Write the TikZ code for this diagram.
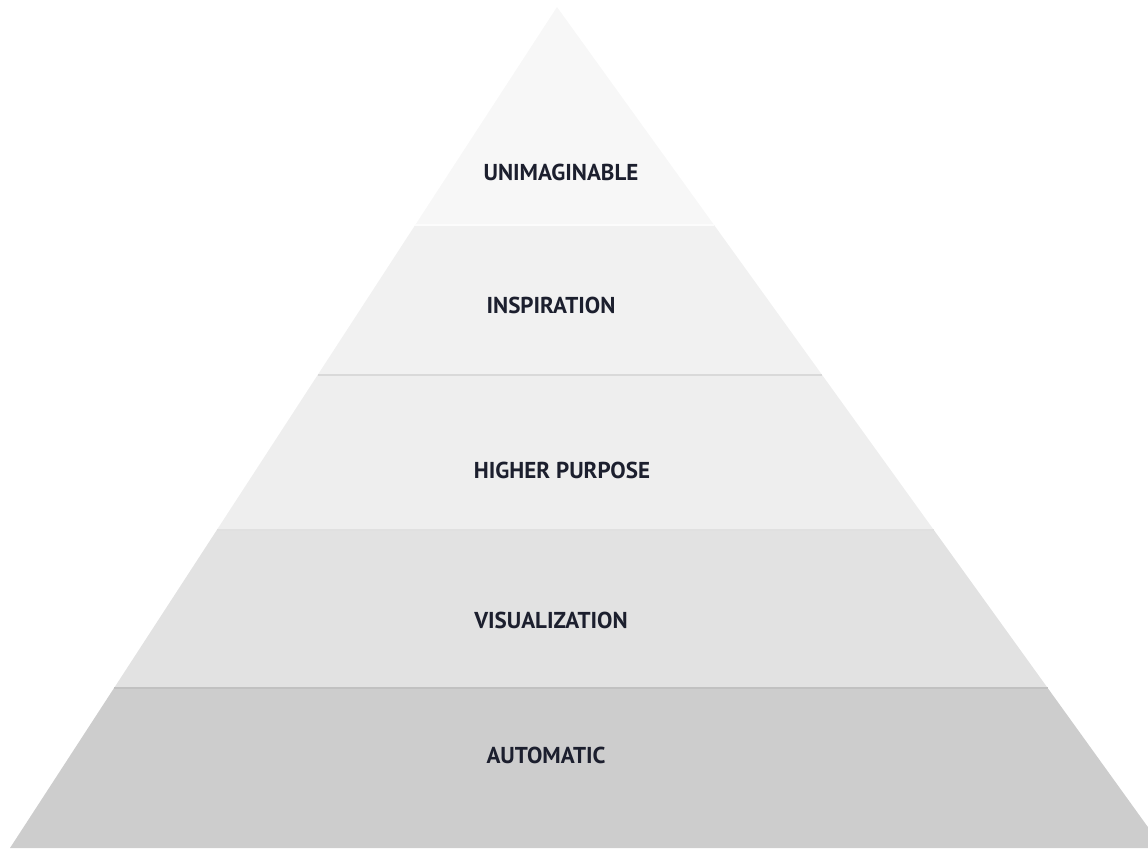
\documentclass[tikz,border=0pt]{standalone}
\usepackage{fontspec}
\setmainfont{PT Sans}
\usetikzlibrary{calc}

\definecolor{bandtop}{HTML}{F7F7F7}
\definecolor{bandtwo}{HTML}{F1F1F1}
\definecolor{bandthree}{HTML}{EEEEEE}
\definecolor{bandfour}{HTML}{E2E2E2}
\definecolor{bandbase}{HTML}{CDCDCD}
\definecolor{labelink}{HTML}{1C1F2E}

\tikzset{
  level/.style={text=labelink, font=\fontsize{11.5}{13}\selectfont\bfseries, inner sep=0pt},
  seam/.style={line width=1.2pt}
}

\begin{document}
\begin{tikzpicture}[x=0.5pt,y=-0.5pt]
    \useasboundingbox (0,0) rectangle (1148,848);
    \clip (0,0) rectangle (1148,848);

    \coordinate (apex) at (557,7);
    \coordinate (baseL) at (10,848);
    \coordinate (baseR) at (1163,848);

    % Bands, top to bottom (fractions along the sides)
    \foreach \ta/\tb/\col in {0/0.2592/bandtop, 0.2592/0.4376/bandtwo,
        0.4376/0.6219/bandthree, 0.6219/0.8098/bandfour, 0.8098/1/bandbase}
      \fill[\col] ($(apex)!\ta!(baseL)$) -- ($(apex)!\ta!(baseR)$)
        -- ($(apex)!\tb!(baseR)$) -- ($(apex)!\tb!(baseL)$) -- cycle;

    % Seams between bands
    \draw[seam, white!60!bandtop] ($(apex)!0.2592!(baseL)$) -- ($(apex)!0.2592!(baseR)$);
    \draw[seam, bandtwo!90!black] ($(apex)!0.4376!(baseL)$) -- ($(apex)!0.4376!(baseR)$);
    \draw[seam, bandthree!94!black] ($(apex)!0.6219!(baseL)$) -- ($(apex)!0.6219!(baseR)$);
    \draw[seam, bandbase!94!black] ($(apex)!0.8098!(baseL)$) -- ($(apex)!0.8098!(baseR)$);

    % Labels
    \node[level] (unimaginable) at (561,172) {UNIMAGINABLE};
    \node[level] (inspiration) at (551,305) {INSPIRATION};
    \node[level] (purpose) at (562,470) {HIGHER PURPOSE};
    \node[level] (visualization) at (551,620) {VISUALIZATION};
    \node[level] (automatic) at (546,755) {AUTOMATIC};
\end{tikzpicture}
\end{document}
